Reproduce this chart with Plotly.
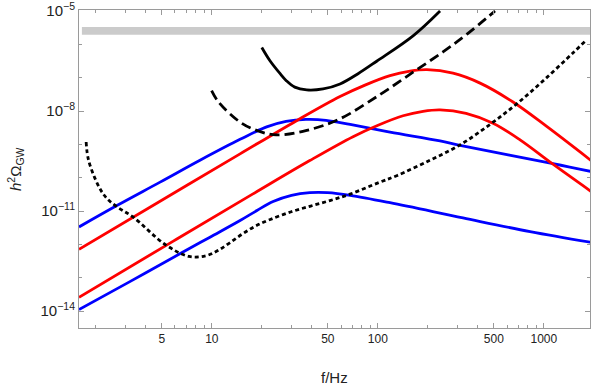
import plotly.graph_objects as go

# ---- data (f in Hz, h^2 Omega_GW) ----
b1_f = [1.585, 2.68, 4.88, 8.49, 14.8, 21.4, 28.0, 36.9, 48.7, 68.1, 118.4, 237, 312.6, 1135, 1950]
b1_y = [10**-11.478, 10**-10.836, 10**-10.134, 10**-9.478, 10**-8.851, 10**-8.478, 10**-8.313,
        10**-8.254, 10**-8.278, 10**-8.403, 10**-8.633, 10**-8.896, 10**-9.03, 10**-9.576, 10**-9.821]

b2_f = [1.585, 3.21, 6.34, 9.75, 14.8, 18.7, 23.4, 30.2, 38.9, 49.8, 68.1, 118.4, 326, 826, 1950]
b2_y = [10**-13.955, 10**-13.119, 10**-12.299, 10**-11.785, 10**-11.284, 10**-10.985, 10**-10.716,
        10**-10.531, 10**-10.451, 10**-10.451, 10**-10.531, 10**-10.752, 10**-11.209, 10**-11.618,
        10**-11.946]

r1_f = [1.585, 4.88, 14.8, 32.4, 59.2, 83.7, 118.4, 156.2, 197.6, 283.7, 413, 652, 1040, 1950]
r1_y = [10**-12.149, 10**-10.707, 10**-9.287, 10**-8.29, 10**-7.567, 10**-7.224, 10**-6.94,
        10**-6.806, 10**-6.761, 10**-6.866, 10**-7.164, 10**-7.731, 10**-8.463, 10**-9.507]

r2_f = [1.585, 5.83, 17.7, 38.9, 70.9, 100.3, 141.9, 187.2, 237, 340, 494, 719, 1135, 1950]
r2_y = [10**-13.588, 10**-11.910, 10**-10.487, 10**-9.487, 10**-8.77, 10**-8.427, 10**-8.143,
        10**-8.009, 10**-7.964, 10**-8.069, 10**-8.367, 10**-8.866, 10**-9.597, 10**-10.433]

solid_f = [20.0, 22.4, 25.8, 28.1, 31.6, 37.3, 46.8, 59.2, 76.0, 98.4, 163, 237]
solid_y = [10**-6.096, 10**-6.493, 10**-6.881, 10**-7.090, 10**-7.284, 10**-7.367, 10**-7.337,
           10**-7.188, 10**-6.881, 10**-6.507, 10**-5.746, 10**-5.0]

dash_f = [9.97, 11.0, 14.8, 18.6, 24.4, 37.3, 59.2, 103, 163, 247, 343, 508]
dash_y = [10**-7.388, 10**-7.737, 10**-8.334, 10**-8.582, 10**-8.716, 10**-8.582, 10**-8.233,
          10**-7.507, 10**-6.836, 10**-6.224, 10**-5.701, 10**-5.0]

dot_f = [1.75, 1.81, 2.09, 2.33, 2.68, 3.35, 5.27, 7.29, 9.19, 10.8, 12.7, 15.3, 18.4, 22.5, 29.8,
         39.4, 51.5, 68.1, 103, 130, 206, 313, 474, 687, 1016, 1507, 1771]
dot_y = [10**-8.931, 10**-9.478, 10**-10.275, 10**-10.621, 10**-10.872, 10**-11.179, 10**-12.015,
         10**-12.364, 10**-12.343, 10**-12.194, 10**-11.970, 10**-11.687, 10**-11.448, 10**-11.254,
         10**-11.030, 10**-10.851, 10**-10.687, 10**-10.493, 10**-10.134, 10**-9.940, 10**-9.478,
         10**-9.015, 10**-8.403, 10**-7.785, 10**-7.045, 10**-6.245, 10**-5.91]

band_f = [1.65, 1900]
band_lo = 10**-5.716
band_hi = 10**-5.478

x_ticks = [5, 10, 50, 100, 500, 1000]
x_ticktext = ["5", "10", "50", "100", "500", "1000"]
x_minor = [2, 3, 4, 6, 7, 8, 9, 20, 30, 40, 60, 70, 80, 90, 200, 300, 400, 600, 700, 800, 900]
y_ticks = [1e-14, 1e-11, 1e-8, 1e-5]
y_ticktext = ["10<sup>−14</sup>", "10<sup>−11</sup>", "10<sup>−8</sup>", "10<sup>−5</sup>"]
y_minor = [1e-13, 1e-12, 1e-10, 1e-9, 1e-7, 1e-6]

fig = go.Figure()

# gray band
fig.add_trace(go.Scatter(
    x=[band_f[0], band_f[1], band_f[1], band_f[0], band_f[0]],
    y=[band_lo, band_lo, band_hi, band_hi, band_lo],
    fill="toself", fillcolor="#cbcbcb", line=dict(width=0), mode="lines",
    hoverinfo="skip", showlegend=False))

def add(xs, ys, color, dash="solid", width=2.8):
    fig.add_trace(go.Scatter(x=xs, y=ys, mode="lines",
                             line=dict(color=color, width=width, dash=dash, shape="spline",
                                       smoothing=1.0),
                             showlegend=False))

add(b1_f, b1_y, "#0000ff")
add(b2_f, b2_y, "#0000ff")
add(r1_f, r1_y, "#ff0000")
add(r2_f, r2_y, "#ff0000")
add(solid_f, solid_y, "#000000")
add(dash_f, dash_y, "#000000", dash="10px,5px")
add(dot_f, dot_y, "#000000", dash="4px,3px")

axis_col = "#9a9a9a"
fnt = "Liberation Sans, Arial, sans-serif"
fig.update_xaxes(type="log", range=[0.2, 3.278], showgrid=False, zeroline=False, automargin=False,
                 showline=True, linecolor=axis_col, linewidth=1, mirror="ticks",
                 ticks="inside", ticklen=5, tickcolor=axis_col, tickwidth=1,
                 tickmode="array", tickvals=x_ticks, ticktext=x_ticktext,
                 ticklabeloverflow="allow",
                 tickfont=dict(family=fnt, size=12, color="#222"),
                 minor=dict(tickmode="array", tickvals=x_minor, ticks="inside", ticklen=3,
                            tickcolor=axis_col, tickwidth=1, showgrid=False))
fig.update_yaxes(type="log", range=[-14.51, -4.97], showgrid=False, zeroline=False, automargin=False,
                 showline=True, linecolor=axis_col, linewidth=1, mirror="ticks",
                 ticks="inside", ticklen=5, tickcolor=axis_col, tickwidth=1,
                 tickmode="array", tickvals=y_ticks, ticktext=y_ticktext,
                 ticklabeloverflow="allow",
                 tickfont=dict(family=fnt, size=15, color="#222"),
                 minor=dict(tickmode="array", tickvals=y_minor, ticks="inside", ticklen=3,
                            tickcolor=axis_col, tickwidth=1, showgrid=False))

fig.add_annotation(text="f/Hz", xref="paper", yref="paper", x=0.5, y=0, yshift=-49,
                   showarrow=False, yanchor="middle",
                   font=dict(family=fnt, size=15, color="#222"))
fig.add_annotation(text="<i>h</i><sup>2</sup>Ω<sub>GW</sub>", xref="paper", yref="paper",
                   x=0, xshift=-64, y=0.5, textangle=-90, showarrow=False,
                   xanchor="center", yanchor="middle",
                   font=dict(family=fnt, size=15, color="#222"))

fig.update_layout(width=599, height=388, margin=dict(l=79, r=9, t=10, b=60),
                  plot_bgcolor="white", paper_bgcolor="white", showlegend=False)

fig.write_html("out.html", config={"displayModeBar": False},
               post_script="document.body.style.margin='0px';document.body.style.overflow='hidden';")
